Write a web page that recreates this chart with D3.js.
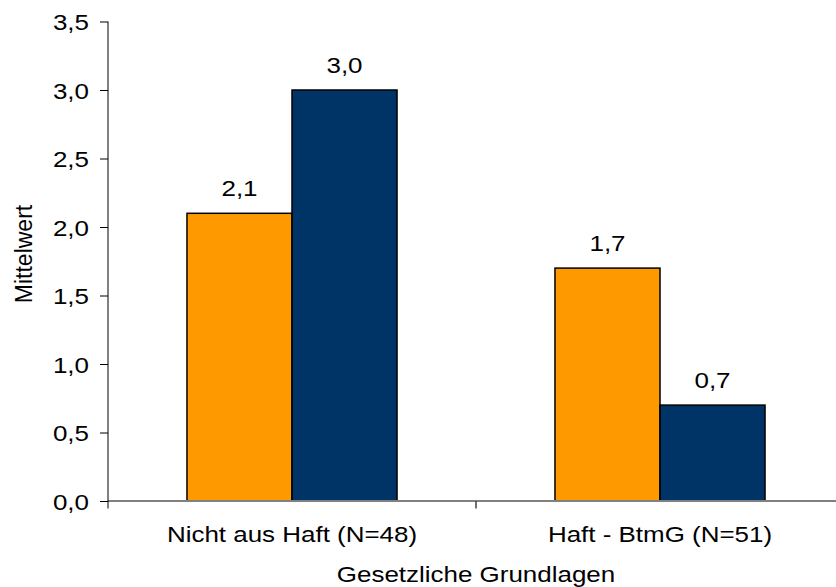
<!DOCTYPE html>
<html>
<head>
<meta charset="utf-8">
<script src="https://cdn.jsdelivr.net/npm/d3@7"></script>
<style>
  html, body { margin: 0; padding: 0; background: #ffffff; }
  svg { display: block; }
  text { font-family: "Liberation Sans", Arial, sans-serif; fill: #000; }
</style>
</head>
<body>
<svg id="chart" width="836" height="587"></svg>
<script>
// Mean score by legal basis, two groups per category
const categories = ["Nicht aus Haft (N=48)", "Haft - BtmG (N=51)"];
const seriesNames = ["Gruppe 1", "Gruppe 2"];
const seriesA = [2.1, 1.7];
const seriesB = [3.0, 0.7];
const yTicks = [0, 0.5, 1.0, 1.5, 2.0, 2.5, 3.0, 3.5];
const yTitle = "Mittelwert";
const xTitle = "Gesetzliche Grundlagen";
const colors = ["#FF9900", "#003366"];

const rows = categories.map((c, i) => ({ category: c, values: [seriesA[i], seriesB[i]] }));

const plotLeft = 108, plotRight = 844, plotTop = 21.5, plotBottom = 501;
const sx = 1.18; // horizontal widening of the lettering
const fs = 22;

const de = d3.formatLocale({ decimal: ",", thousands: ".", grouping: [3], currency: ["", " €"] });
const fmt = de.format(".1f");

const svg = d3.select("#chart");

const x0 = d3.scaleBand().domain(categories).range([plotLeft, plotRight]).padding(0);
const x1 = d3.scaleBand().domain(seriesNames).range([0, x0.bandwidth()])
  .paddingInner(0).paddingOuter(0.752);
const y = d3.scaleLinear().domain([0, 3.5]).range([plotBottom, plotTop]);

// helper: text widened horizontally around its anchor point
function wideText(sel, x, yy, str, size, anchor) {
  const g = sel.append("g").attr("transform", `translate(${x},${yy})`);
  g.append("text")
    .attr("transform", `scale(${sx},1)`)
    .attr("text-anchor", anchor)
    .attr("font-size", size)
    .text(str);
  return g;
}

// bars
const groups = svg.append("g").selectAll("g")
  .data(rows).join("g")
  .attr("transform", d => `translate(${x0(d.category)},0)`);

groups.selectAll("rect")
  .data(d => d.values.map((v, i) => ({ key: seriesNames[i], v, i })))
  .join("rect")
  .attr("x", d => x1(d.key))
  .attr("y", d => y(d.v))
  .attr("width", x1.bandwidth())
  .attr("height", d => y(0) - y(d.v))
  .attr("fill", d => colors[d.i])
  .attr("stroke", "#000")
  .attr("stroke-width", 1.5);

// value labels
groups.each(function (d) {
  const g = d3.select(this);
  d.values.forEach((v, i) => {
    wideText(g, x1(seriesNames[i]) + x1.bandwidth() / 2, y(v) - 17, fmt(v), fs, "middle");
  });
});

// x axis line and category ticks
svg.append("line")
  .attr("x1", plotLeft).attr("x2", plotRight)
  .attr("y1", y(0)).attr("y2", y(0))
  .attr("stroke", "#808080").attr("stroke-width", 2);

const xTickPos = categories.map(c => x0(c)).concat([x0(categories[categories.length - 1]) + x0.bandwidth()]);
svg.append("g").selectAll("line")
  .data(xTickPos.slice(1)).join("line")
  .attr("x1", d => d).attr("x2", d => d)
  .attr("y1", y(0)).attr("y2", y(0) + 7.5)
  .attr("stroke", "#404040").attr("stroke-width", 1.5);

// y axis
const yAxis = d3.axisLeft(y).tickValues(yTicks).tickSize(8).tickFormat(fmt);
const ya = svg.append("g").attr("transform", `translate(${plotLeft},0)`).call(yAxis);
ya.select(".domain").remove();
ya.selectAll(".tick line").attr("stroke", "#000").attr("stroke-width", 1);
ya.selectAll(".tick text").remove();
ya.selectAll(".tick").each(function (d) {
  wideText(d3.select(this), -19, 8, fmt(d), fs, "end");
});
svg.append("line")
  .attr("x1", plotLeft).attr("x2", plotLeft)
  .attr("y1", plotTop).attr("y2", y(0) + 7.5)
  .attr("stroke", "#000").attr("stroke-width", 1);

// category labels
categories.forEach(c => {
  wideText(svg, x0(c) + x0.bandwidth() / 2, 542, c, fs, "middle");
});

// axis titles
wideText(svg, (plotLeft + plotRight) / 2, 582, xTitle, fs, "middle");

svg.append("text")
  .attr("transform", "translate(31.5,254) rotate(-90)")
  .attr("text-anchor", "middle")
  .attr("font-size", 23)
  .text(yTitle);
</script>
</body>
</html>
